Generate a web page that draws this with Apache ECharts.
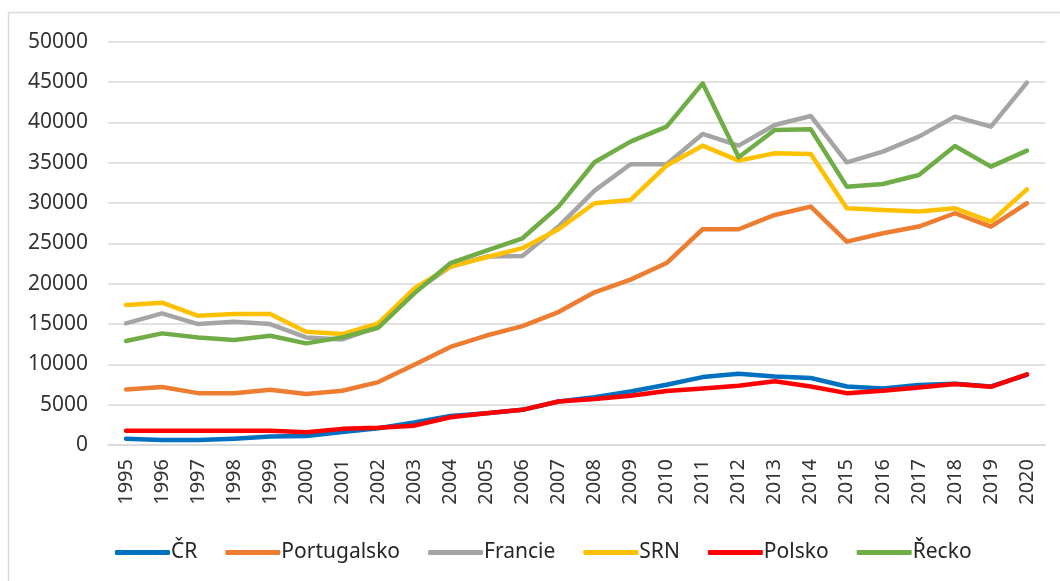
<!DOCTYPE html>
<html>
<head>
<meta charset="utf-8">
<script src="https://cdn.jsdelivr.net/npm/echarts@6/dist/echarts.min.js"></script>
<style>
html,body{margin:0;padding:0;background:#fff;}
#c{width:1060px;height:581px;}
</style>
</head>
<body>
<div id="c"></div>
<script>
const years = ['1995','1996','1997','1998','1999','2000','2001','2002','2003','2004','2005','2006','2007','2008','2009','2010','2011','2012','2013','2014','2015','2016','2017','2018','2019','2020'];
const seriesNames = ['ČR','Portugalsko','Francie','SRN','Polsko','Řecko'];
const cr = [790, 620, 620, 790, 1040, 1120, 1620, 2070, 2780, 3610, 3940, 4360, 5400, 5930, 6640, 7470, 8420, 8840, 8500, 8300, 7260, 7000, 7430, 7600, 7260, 8700];
const portugalsko = [6890, 7180, 6430, 6430, 6850, 6310, 6720, 7800, 9960, 12160, 13570, 14730, 16480, 18930, 20500, 22560, 26750, 26750, 28520, 29560, 25220, 26250, 27080, 28730, 27080, 29970];
const francie = [15070, 16310, 14990, 15280, 14990, 13340, 13090, 14660, 19000, 22100, 23360, 23440, 27080, 31540, 34800, 34800, 38560, 37110, 39670, 40790, 35050, 36370, 38230, 40710, 39470, 44920];
const srn = [17350, 17640, 16020, 16230, 16230, 14040, 13750, 15070, 19400, 22120, 23280, 24400, 26750, 29970, 30380, 34640, 37110, 35260, 36170, 36080, 29350, 29140, 28940, 29350, 27700, 31700];
const polsko = [1780, 1780, 1780, 1780, 1780, 1580, 2000, 2150, 2400, 3440, 3940, 4360, 5400, 5700, 6100, 6700, 7000, 7350, 7900, 7260, 6430, 6720, 7140, 7550, 7220, 8750];
const recko = [12890, 13840, 13340, 13010, 13550, 12600, 13340, 14540, 18800, 22540, 24100, 25630, 29560, 35050, 37610, 39470, 44840, 35670, 39060, 39140, 32030, 32360, 33480, 37070, 34510, 36500];
const yTicks = {min: 0, max: 50000, interval: 5000};

const dataList = [cr, portugalsko, francie, srn, polsko, recko];
const colors = ['#0070C0','#ED7D31','#A5A5A5','#FFC000','#FF0000','#70AD47'];
const font = 'Noto Sans';

const chart = echarts.init(document.getElementById('c'), null, {renderer:'canvas'});
chart.setOption({
  animation: false,
  backgroundColor: '#fff',
  textStyle: {fontFamily: font},
  graphic: [{
    type: 'rect',
    shape: {x: 8.5, y: 12.5, width: 1100, height: 620},
    style: {fill: 'none', stroke: '#D9D9D9', lineWidth: 1.5},
    silent: true
  }],
  grid: {left: 108, right: 15, top: 41.7, bottom: 136, containLabel: false},
  legend: {
    left: 110, top: 537,
    icon: 'roundRect',
    itemWidth: 55, itemHeight: 5, itemGap: 28,
    textStyle: {fontFamily: font, fontSize: 21, color: '#262626', padding: [0, 0, 0, -4]},
    data: seriesNames
  },
  xAxis: {
    type: 'category', data: years, boundaryGap: true,
    axisTick: {show: false},
    axisLine: {lineStyle: {color: '#D9D9D9', width: 1.5}},
    axisLabel: {rotate: 90, margin: 14, fontFamily: font, fontSize: 20, color: '#333333', interval: 0}
  },
  yAxis: {
    type: 'value', min: yTicks.min, max: yTicks.max, interval: yTicks.interval,
    axisLine: {show: false}, axisTick: {show: false},
    splitLine: {lineStyle: {color: '#D9D9D9', width: 1.5}},
    axisLabel: {margin: 20, fontFamily: font, fontSize: 21, color: '#333333', formatter: v => String(v)}
  },
  series: seriesNames.map((n, i) => ({
    name: n, type: 'line', data: dataList[i],
    symbol: 'none', smooth: false,
    itemStyle: {color: colors[i]},
    lineStyle: {color: colors[i], width: 4.5, cap: 'round', join: 'round'}
  }))
});
</script>
</body>
</html>
